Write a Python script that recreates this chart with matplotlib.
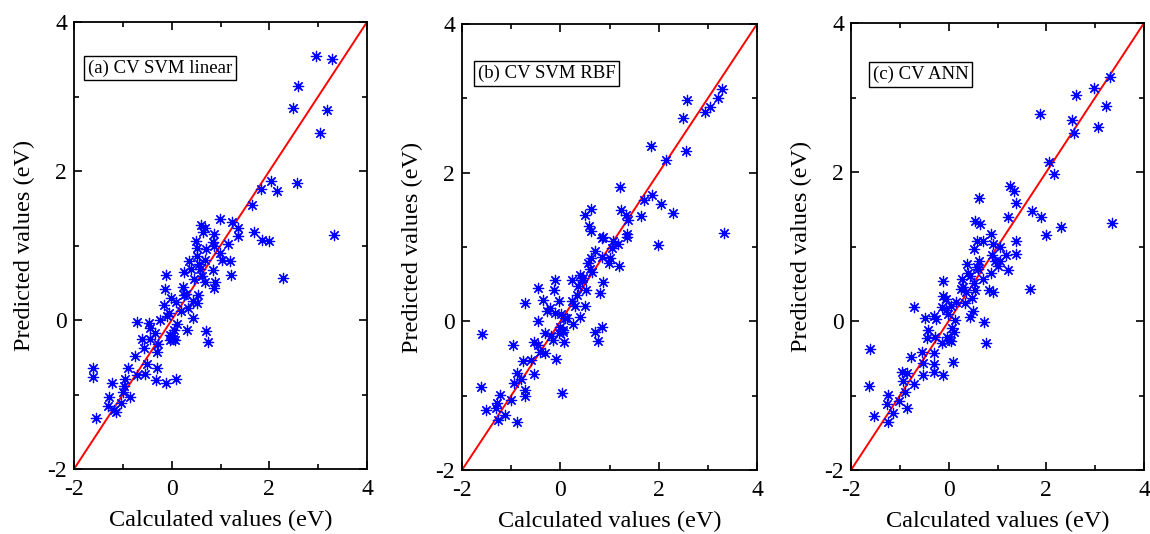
import numpy as np
import matplotlib
matplotlib.use('Agg')
import matplotlib.pyplot as plt
from matplotlib.ticker import MultipleLocator

plt.rcParams['font.family'] = ['Liberation Serif', 'DejaVu Serif']
plt.rcParams['axes.unicode_minus'] = False

# panel (a) CV SVM linear: calculated vs predicted (eV)
calc_a = [2.96, 3.29, 2.58, 2.49, 3.19, 3.04, 2.03, 2.56, 1.83, 2.15, 1.64, 0.99, 0.60, 1.24,
          1.35, 0.68, 0.64, 1.69, 1.35, 0.87, 1.86, 2.00, 3.32, 0.49, 0.85, 1.16, 0.52, 0.87,
          0.99, 0.51, 1.04, 1.19, 0.36, 0.68, 2.29, 1.22, -0.11, 0.26, 0.39, 0.58, 0.84, 0.63,
          0.68, 0.89, 0.87, 0.23, -0.13, 0.26, 0.53, 0.44, -0.02, 0.09, 0.33, 0.51, -0.15, -0.05,
          -0.24, 0.43, -0.70, -0.46, -0.44, 0.10, 0.05, 0.31, 0.70, 0.74, -0.03, -0.03, 0.07,
          -0.34, -0.61, -0.44, -0.27, -0.57, -0.31, -0.76, -0.51, -0.31, -0.89, -1.62, -1.62,
          -0.55, -0.72, -0.96, -1.23, -0.32, -0.12, 0.08, -0.97, -0.99, -1.28, -0.85, -1.30,
          -1.04, -1.19, -1.13, -1.54, 0.30, 0.45, 0.20, 0.00, 0.02, -0.10, 0.55, 0.70]
pred_a = [3.54, 3.50, 3.14, 2.85, 2.82, 2.51, 1.86, 1.84, 1.76, 1.73, 1.54, 1.36, 1.28, 1.31,
          1.24, 1.24, 1.18, 1.18, 1.13, 1.15, 1.08, 1.06, 1.14, 1.06, 1.05, 1.02, 0.97, 1.00,
          0.90, 0.86, 0.80, 0.79, 0.79, 0.80, 0.57, 0.60, 0.60, 0.64, 0.68, 0.69, 0.67, 0.59,
          0.51, 0.51, 0.43, 0.44, 0.41, 0.33, 0.33, 0.26, 0.30, 0.24, 0.16, 0.23, 0.20, 0.10,
          0.00, 0.03, -0.03, -0.04, -0.11, -0.05, -0.13, -0.14, -0.15, -0.30, -0.20, -0.27, -0.27,
          -0.18, -0.26, -0.26, -0.32, -0.38, -0.43, -0.48, -0.59, -0.65, -0.64, -0.65, -0.77,
          -0.73, -0.74, -0.79, -0.84, -0.81, -0.84, -0.79, -0.88, -0.96, -1.03, -1.04, -1.15,
          -1.11, -1.21, -1.23, -1.32, 0.35, 0.55, 0.12, -0.22, -0.25, 0.05, 0.75, 0.95]

# panel (b) CV SVM RBF
calc_b = [3.29, 3.20, 2.57, 3.05, 2.95, 2.50, 1.85, 2.55, 2.15, 1.21, 1.87, 1.70, 2.04, 2.30,
          1.65, 1.23, 0.62, 0.50, 1.34, 1.37, 0.59, 0.62, 1.35, 1.35, 3.32, 1.99, 0.87, 0.84,
          1.08, 1.18, 1.06, 0.62, 0.57, 0.84, 1.01, 0.98, 1.20, 0.40, 0.47, 0.64, 0.23, 0.87,
          -0.11, -0.46, -0.13, 0.53, 0.81, 0.33, -0.35, -0.71, -0.02, 0.23, 0.50, -0.21, -0.28,
          -0.11, 0.02, 0.40, 0.13, -0.45, 0.26, 0.00, 0.06, -0.03, -0.32, -1.59, 0.70, 0.84,
          0.76, -0.15, 0.08, -0.53, -0.45, -0.96, -0.42, -0.32, -0.09, -0.59, -0.76, -0.54,
          -0.89, -0.79, -0.94, -0.72, -0.72, -1.62, 0.04, -1.23, -1.00, -1.28, -1.30, -1.52,
          -1.13, -1.27, -0.88, 0.45, 0.35, 0.10, 0.05, 0.60, 0.30, -0.20, 0.70]
pred_b = [3.13, 3.00, 2.98, 2.89, 2.81, 2.74, 2.36, 2.29, 2.17, 1.81, 1.70, 1.63, 1.58, 1.46,
          1.42, 1.50, 1.51, 1.43, 1.43, 1.36, 1.28, 1.22, 1.18, 1.13, 1.19, 1.03, 1.14, 1.12,
          1.08, 1.04, 0.98, 0.85, 0.78, 0.86, 0.85, 0.78, 0.74, 0.62, 0.58, 0.67, 0.56, 0.53,
          0.55, 0.45, 0.42, 0.42, 0.38, 0.36, 0.29, 0.24, 0.27, 0.27, 0.20, 0.18, 0.14, 0.11,
          0.10, 0.06, 0.04, -0.00, -0.03, -0.07, -0.14, -0.16, -0.16, -0.17, -0.15, -0.07,
          -0.26, -0.25, -0.28, -0.28, -0.32, -0.32, -0.41, -0.43, -0.50, -0.52, -0.54, -0.71,
          -0.70, -0.77, -0.83, -0.92, -1.01, -0.89, -0.97, -0.99, -1.06, -1.10, -1.17, -1.19,
          -1.26, -1.33, -1.36, 0.55, 0.48, 0.05, -0.12, 0.70, 0.20, -0.20, 0.95]

# panel (c) CV ANN
calc_c = [3.30, 2.98, 2.60, 3.22, 1.87, 2.52, 3.06, 2.57, 2.06, 2.16, 1.25, 1.34, 0.62, 1.37,
          1.71, 1.89, 1.22, 0.53, 0.64, 3.34, 2.31, 1.99, 0.86, 0.57, 0.71, 1.37, 0.90, 1.05,
          0.51, 0.88, 1.17, 1.37, 0.63, 0.57, 0.37, 1.05, 1.00, 1.22, 0.86, 0.44, 0.27, -0.11,
          0.71, 0.51, 1.67, 0.83, 0.90, 0.25, 0.35, 0.54, -0.12, 0.48, 0.16, 0.33, -0.70, -0.14,
          -0.06, 0.50, -0.01, 0.44, -0.48, -0.31, -0.25, 0.13, 0.73, -0.42, 0.06, 0.10, -0.45,
          -0.28, -0.03, 0.05, -0.14, 0.76, -1.61, -0.54, -0.30, -0.77, -0.52, -0.31, 0.08,
          -0.96, -0.86, -0.53, -0.31, -0.11, -0.93, -0.72, -1.63, -0.89, -1.24, -1.27, -1.01,
          -0.86, -1.13, -1.52, -1.25, 0.40, 0.00, 0.05, 0.60, -0.05, 0.30, 0.95]
pred_c = [3.28, 3.13, 3.03, 2.88, 2.78, 2.70, 2.60, 2.52, 2.14, 1.97, 1.81, 1.74, 1.65, 1.59,
          1.48, 1.40, 1.39, 1.34, 1.30, 1.31, 1.26, 1.15, 1.17, 1.08, 1.08, 1.08, 1.04, 1.00,
          0.96, 0.89, 0.89, 0.90, 0.81, 0.73, 0.76, 0.80, 0.74, 0.68, 0.64, 0.60, 0.56, 0.54,
          0.57, 0.51, 0.43, 0.42, 0.39, 0.43, 0.39, 0.42, 0.33, 0.31, 0.26, 0.24, 0.19, 0.19,
          0.15, 0.13, 0.10, 0.06, 0.04, 0.07, 0.03, 0.01, -0.02, -0.12, -0.10, -0.15, -0.23,
          -0.22, -0.22, -0.27, -0.29, -0.30, -0.37, -0.42, -0.43, -0.48, -0.57, -0.58, -0.55,
          -0.68, -0.70, -0.72, -0.69, -0.72, -0.81, -0.84, -0.87, -0.95, -0.99, -1.11, -1.08,
          -1.17, -1.24, -1.28, -1.36, 0.65, -0.25, 0.20, 0.70, 0.30, 0.45, 0.80]

panels = [
    (calc_a, pred_a, '(a) CV SVM linear', [74, 22, 293, 447], 0.048, 0.897),
    (calc_b, pred_b, '(b) CV SVM RBF', [462, 24, 295, 446], 0.054, 0.889),
    (calc_c, pred_c, '(c) CV ANN', [851, 23, 293, 447], 0.075, 0.885),
]

W, H = 1150, 534
fig = plt.figure(figsize=(W / 100, H / 100), dpi=100)

star = (8, 2, 0)
for calc, pred, label, (px, py, pw, ph), lx, ly in panels:
    ax = fig.add_axes([px / W, 1 - (py + ph) / H, pw / W, ph / H])
    ax.plot([-2, 4], [-2, 4], color='red', lw=1.4, zorder=2)
    ax.scatter(calc, pred, marker=star, s=55, color='#0000ff', linewidths=0.9, zorder=3)
    ax.set_xlim(-2, 4)
    ax.set_ylim(-2, 4)
    ax.xaxis.set_major_locator(MultipleLocator(2))
    ax.yaxis.set_major_locator(MultipleLocator(2))
    ax.xaxis.set_minor_locator(MultipleLocator(1))
    ax.yaxis.set_minor_locator(MultipleLocator(1))
    ax.tick_params(which='both', direction='in', top=True, right=True, width=1.2)
    ax.tick_params(which='major', length=6, labelsize=17)
    ax.tick_params(which='minor', length=3.5)
    ax.tick_params(axis='x', which='major', pad=7)
    ax.tick_params(axis='y', which='major', pad=5)
    for sp in ax.spines.values():
        sp.set_linewidth(1.3)
    ax.set_xlabel('Calculated values (eV)', fontsize=17.5, labelpad=7)
    ax.set_ylabel('Predicted values (eV)', fontsize=17.5, labelpad=9)
    ax.text(lx, ly, label, transform=ax.transAxes, fontsize=13.5, ha='left', va='center',
            bbox=dict(boxstyle='square,pad=0.2', fc='white', ec='black', lw=1.0))

fig.savefig('out.png', dpi=100)
